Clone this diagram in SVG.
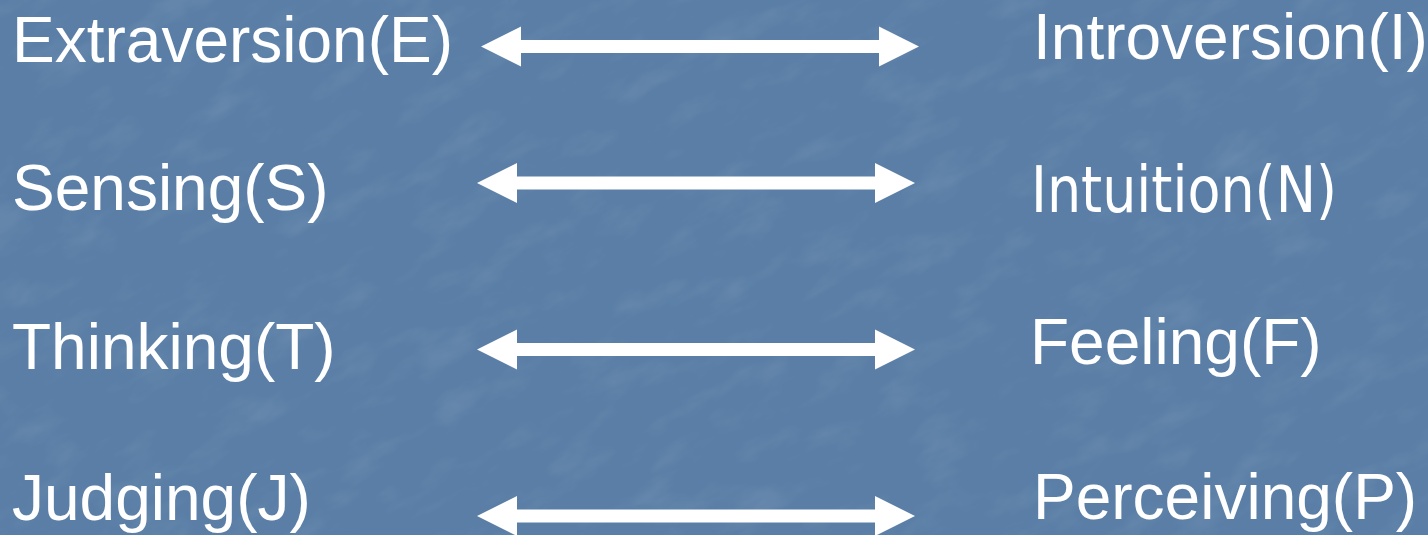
<svg xmlns="http://www.w3.org/2000/svg" width="1428" height="535" viewBox="0 0 1428 535">
  <defs>
    <style>
      .lbl { font-family: "Liberation Sans", Arial, sans-serif; font-size: 64px; fill: #ffffff; }
      .alt { font-family: "DejaVu Sans", Tahoma, sans-serif; font-size: 64px; fill: #ffffff; }
      .arrow { fill: #ffffff; }
    </style>
    <!-- soft mottled slate texture for the backdrop -->
    <filter id="grain" x="0" y="0" width="100%" height="100%">
      <feTurbulence type="fractalNoise" baseFrequency="0.015 0.035" numOctaves="4" seed="7" result="n"/>
      <feColorMatrix in="n" type="matrix"
        values="0 0 0 0 1
                0 0 0 0 1
                0 0 0 0 1
                0 0 0 1.4 -0.7"/>
    </filter>
    <!-- double-headed arrow centred on y=0 -->
    <path id="dbl" class="arrow" d="M0,0 L40,-20 L40,-6.5 L398,-6.5 L398,-20 L438,0 L398,20 L398,6.5 L40,6.5 L40,20 Z"/>
  </defs>

  <rect width="1428" height="535" fill="#5a7ea6"/>
  <g transform="rotate(-28 714 267)">
    <rect x="-400" y="-500" width="2228" height="1535" filter="url(#grain)" opacity="0.13"/>
  </g>

  <g id="connectors">
    <use href="#dbl" x="481" y="46.5"/>
    <use href="#dbl" x="477" y="183"/>
    <use href="#dbl" x="477" y="349.5"/>
    <use href="#dbl" x="477" y="516"/>
  </g>

  <g id="extraversion"><text class="lbl" x="12" y="62">Extraversion(E)</text></g>
  <g id="introversion"><text class="lbl" x="1033" y="59">Introversion(I)</text></g>
  <g id="sensing"><text class="lbl" x="12" y="210">Sensing(S)</text></g>
  <g id="intuition"><text class="alt" x="1031" y="212" textLength="306" lengthAdjust="spacingAndGlyphs">Intuition(N)</text></g>
  <g id="thinking"><text class="lbl" x="12" y="369">Thinking(T)</text></g>
  <g id="feeling"><text class="lbl" x="1030" y="364">Feeling(F)</text></g>
  <g id="judging"><text class="lbl" x="12" y="520">Judging(J)</text></g>
  <g id="perceiving"><text class="lbl" x="1033" y="519">Perceiving(P)</text></g>
</svg>
